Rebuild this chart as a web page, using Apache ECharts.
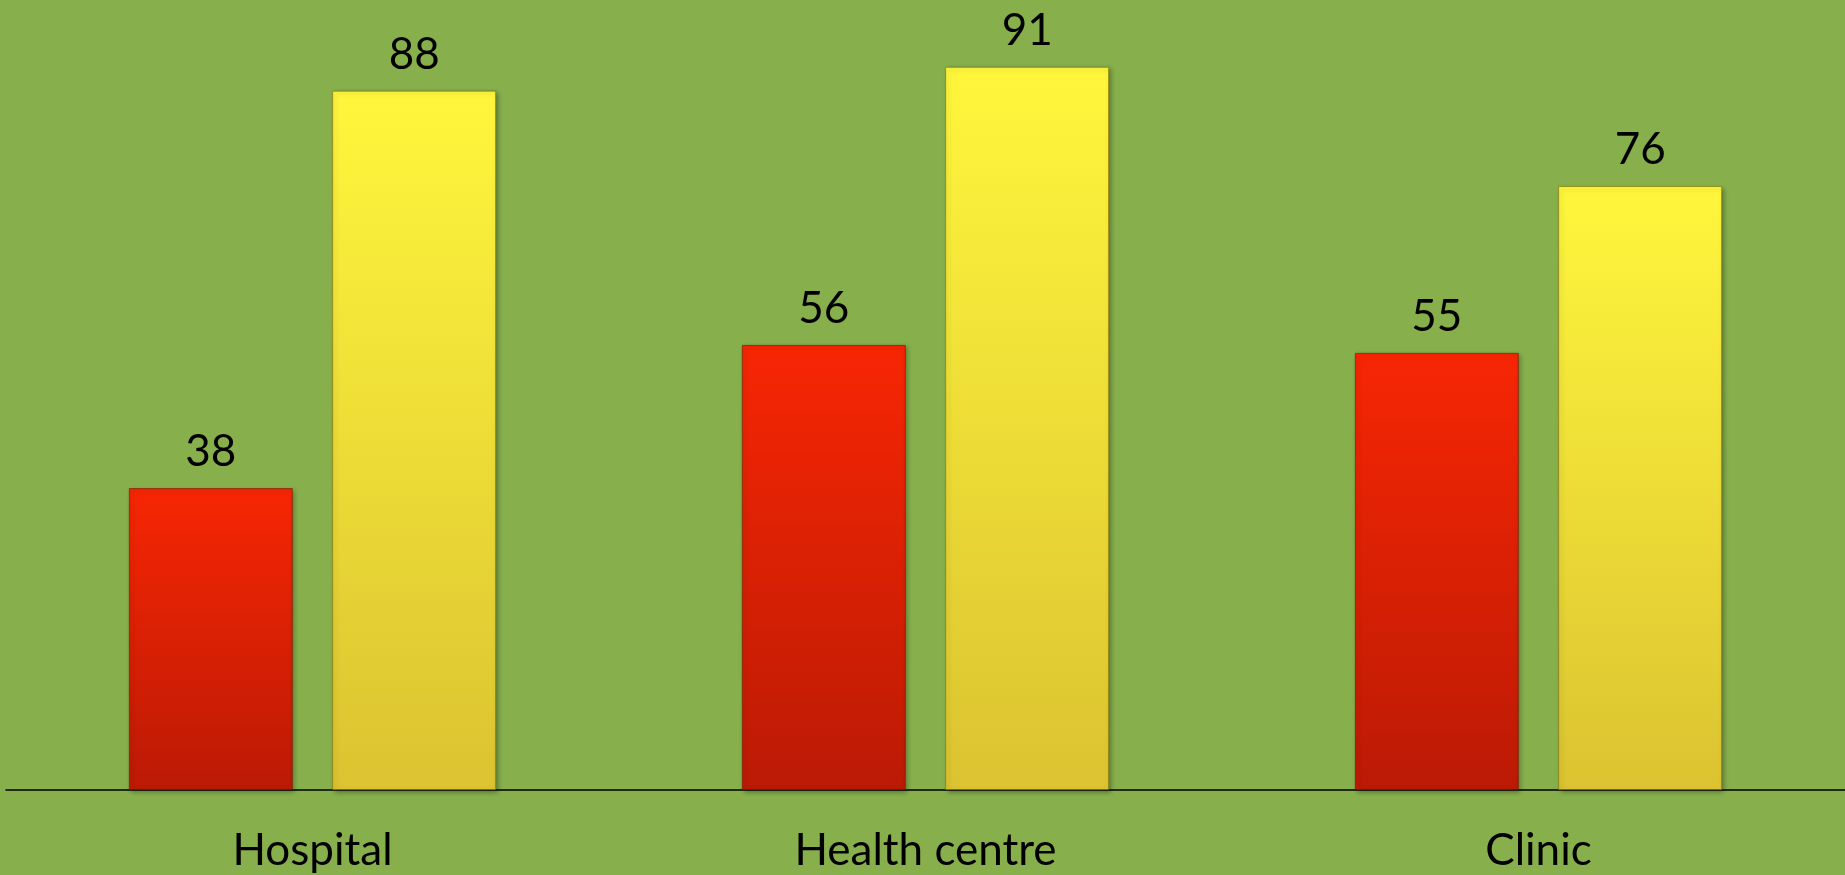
<!DOCTYPE html>
<html>
<head>
<meta charset="utf-8">
<style>
  html, body { margin: 0; padding: 0; background: #87b04d; }
  #chart { width: 1845px; height: 875px; }
</style>
<script src="https://cdn.jsdelivr.net/npm/echarts@6/dist/echarts.min.js"></script>
</head>
<body>
<div id="chart"></div>
<script>
const categories = ['Hospital', 'Health centre', 'Clinic']
const redValues = [38, 56, 55]
const yellowValues = [88, 91, 76]

const chart = echarts.init(document.getElementById('chart'))

const labelStyle = {
  show: true,
  position: 'top',
  distance: 14,
  color: '#000',
  fontFamily: 'Lato',
  fontSize: 44
}

const barShadow = {
  shadowBlur: 5,
  shadowColor: 'rgba(0,0,0,0.35)',
  shadowOffsetX: 2,
  shadowOffsetY: 2
}

chart.setOption({
  backgroundColor: '#87b04d',
  animation: false,
  grid: { left: 6, right: 0, top: 35, bottom: 85 },
  xAxis: {
    type: 'category',
    data: categories,
    axisLine: { lineStyle: { color: '#000', width: 1.5 } },
    axisTick: { show: false },
    axisLabel: {
      color: '#000',
      fontFamily: 'Lato',
      fontSize: 44,
      margin: 39
    }
  },
  yAxis: {
    type: 'value',
    min: 0,
    max: 95,
    show: false,
    splitLine: { show: false }
  },
  series: [
    {
      name: 'red',
      type: 'bar',
      data: redValues,
      barWidth: '26.75%',
      barGap: '24%',
      label: labelStyle,
      itemStyle: Object.assign({
        borderColor: 'rgba(120,20,0,0.6)',
        borderWidth: 1,
        color: new echarts.graphic.LinearGradient(0, 0, 0, 1, [
          { offset: 0, color: '#f72604' },
          { offset: 1, color: '#bb1a05' }
        ])
      }, barShadow)
    },
    {
      name: 'yellow',
      type: 'bar',
      data: yellowValues,
      barWidth: '26.75%',
      label: labelStyle,
      itemStyle: Object.assign({
        borderColor: 'rgba(130,110,0,0.6)',
        borderWidth: 1,
        color: new echarts.graphic.LinearGradient(0, 0, 0, 1, [
          { offset: 0, color: '#fff63c' },
          { offset: 1, color: '#dbc331' }
        ])
      }, barShadow)
    }
  ]
})
</script>
</body>
</html>
